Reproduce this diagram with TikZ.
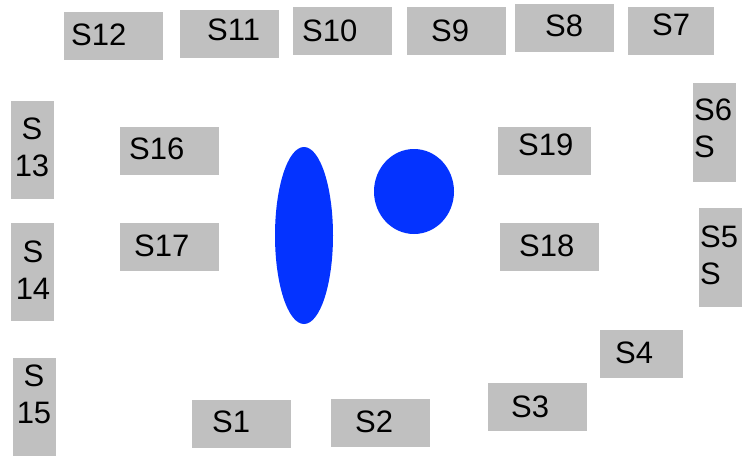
\documentclass[tikz,border=0pt]{standalone}
\usepackage{fontspec}
\setmainfont{Liberation Sans}
\definecolor{panel}{HTML}{C0C0C0}
\definecolor{pool}{HTML}{0433FF}

\begin{document}
\begin{tikzpicture}[x=1pt,y=-1pt,
  tag/.style={anchor=base west,inner sep=0pt,font=\fontsize{31}{37}\selectfont},
  stag/.style={tag,anchor=base,align=center},
  ltag/.style={tag,align=left}]
  \useasboundingbox (0,0) rectangle (745,456);
  % flat boxes
  \foreach \n/\x/\y/\w/\tx/\ty in {12/64/12/99/71/45, 11/180/10/99/207/40,
      10/293/7/99/302/41, 9/407/7/99/431/41, 8/515/4/99/545/36, 7/628/7/86/652/35,
      16/120/127/99/129/159, 19/498/127/93/518/155, 17/120/223/99/134/256,
      18/500/223/99/519/256, 1/192/400/99/212/432, 2/331/399/99/355/432,
      3/488/383/99/511/417, 4/600/330/83/615/363}{
    \fill[panel] (\x,\y) rectangle ++(\w,48);
    \node[tag] (s\n) at (\tx,\ty) {S\n};
  }
  % tall boxes, centred text (base = last line)
  \foreach \n/\x/\y/\tx/\ty in {13/11/101/32/176, 14/11/223/33/299, 15/13/358/34/423}{
    \fill[panel] (\x,\y) rectangle ++(43,98);
    \node[stag] (s\n) at (\tx,\ty) {S\\\n};
  }
  % tall boxes, left text
  \foreach \n/\x/\y/\tx/\ty in {6/693/83/694/157, 5/699/208/700/284}{
    \fill[panel] (\x,\y) rectangle ++(43,99);
    \node[ltag] (s\n) at (\tx,\ty) {S\n\\S};
  }
  % blue shapes
  \fill[pool] (304,235.5) ellipse (29 and 88.5);
  \fill[pool] (414,191.5) ellipse (40 and 42.5);
\end{tikzpicture}
\end{document}
